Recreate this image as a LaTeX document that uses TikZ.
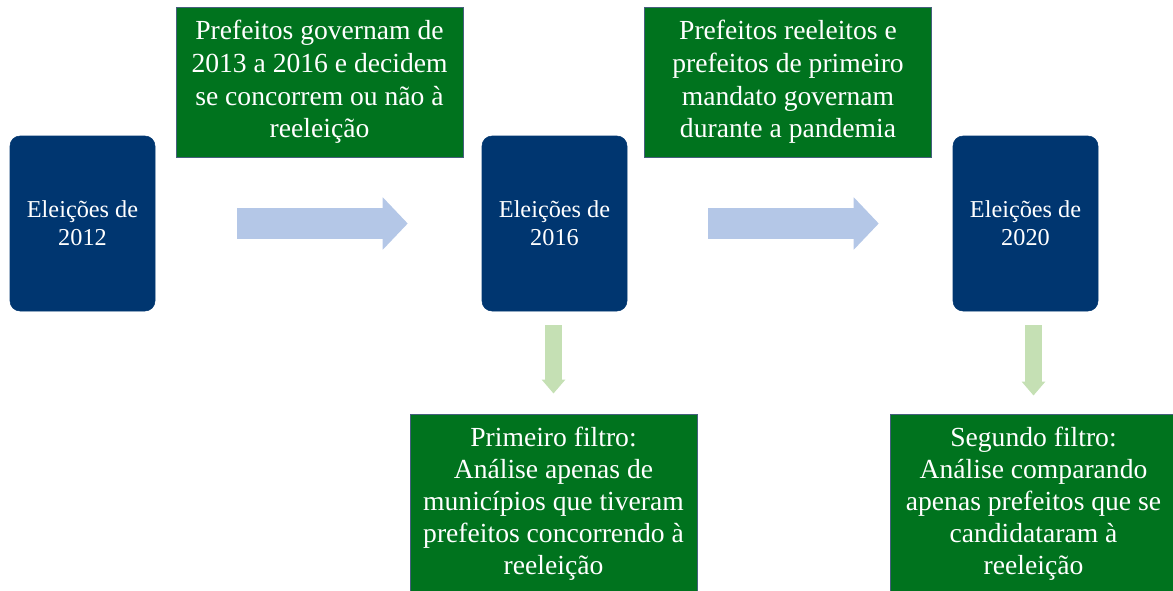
\documentclass[tikz,border=0pt]{standalone}
\usepackage{fontspec}
\setmainfont{Liberation Serif}
\usetikzlibrary{arrows.meta,positioning}
\definecolor{azulesc}{RGB}{0,54,112}
\definecolor{verde}{RGB}{0,115,30}
\definecolor{borda}{RGB}{70,95,125}
\definecolor{azulclaro}{RGB}{180,199,231}
\definecolor{verdeclaro}{RGB}{197,224,180}

\begin{document}
\begin{tikzpicture}[x=0.75pt,y=-0.75pt,
  every node/.style={text=white,align=center,inner sep=0pt},
  eleicao/.style={fill=azulesc,draw=azulesc,rounded corners=7.5pt,
    minimum width=108.75pt,minimum height=131.25pt,font=\fontsize{18.2}{21}\selectfont},
  caixa/.style={fill=verde,draw=borda,line width=0.75pt,
    minimum width=215.25pt,minimum height=112.5pt,font=\fontsize{20.7}{24.6}\selectfont},
  filtro/.style={caixa,minimum height=135pt,font=\fontsize{20.7}{24}\selectfont},
  setah/.style={draw=azulclaro,line width=23.25pt,-{Triangle[length=18.75pt,width=38.25pt]}},
  setav/.style={draw=verdeclaro,line width=12.75pt,-{Triangle[length=10.5pt,width=17.25pt]}}]
 \useasboundingbox (0,0) rectangle (1173,590);
 % eleicoes
 \node[eleicao] (e2012) at (82.5,223.5) {Eleições de\\2012};
 \node[eleicao] (e2016) at (554.5,223.5) {Eleições de\\2016};
 \node[eleicao] (e2020) at (1025.5,223.5) {Eleições de\\2020};
 % periodos entre eleicoes
 \node[caixa] (gov1) at (319.5,82) {Prefeitos governam de\\2013 a 2016 e decidem\\se concorrem ou não à\\reeleição};
 \node[caixa] (gov2) at (788,82) {Prefeitos reeleitos e\\prefeitos de primeiro\\mandato governam\\durante a pandemia};
 % filtros
 \node[filtro] (f1) at (553.5,504) {Primeiro filtro:\\Análise apenas de\\municípios que tiveram\\prefeitos concorrendo à\\reeleição};
 \node[filtro] (f2) at (1033.5,504) {Segundo filtro:\\Análise comparando\\apenas prefeitos que se\\candidataram à\\reeleição};
 % setas
 \draw[setah,shorten <=61.5pt,shorten >=55.5pt] (e2012.east) -- (e2016.west);
 \draw[setah,shorten <=60.75pt,shorten >=55.5pt] (e2016.east) -- (e2020.west);
 \draw[setav,shorten <=10.5pt,shorten >=15pt] (e2016.south -| f1.north) -- (f1.north);
 \draw[setav,shorten <=10.5pt,shorten >=13.5pt] (e2020.south -| f2.north) -- (f2.north);
\end{tikzpicture}
\end{document}
